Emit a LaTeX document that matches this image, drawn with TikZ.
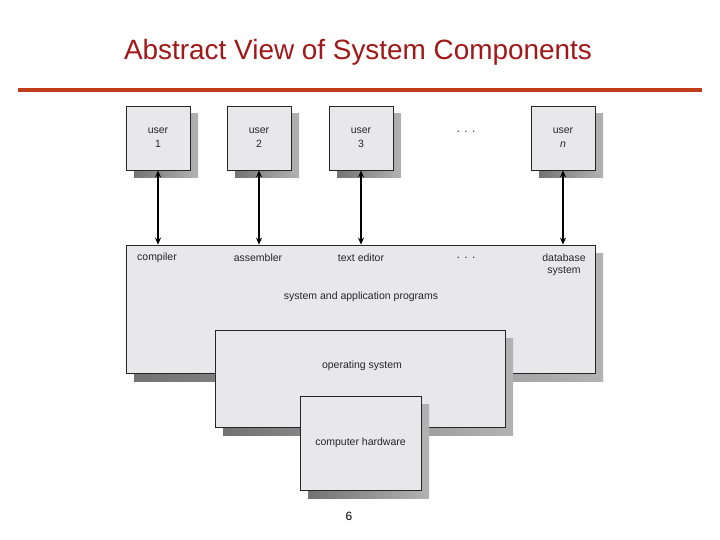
\documentclass[tikz,border=0pt]{standalone}
\usepackage{fontspec}
\setmainfont{Liberation Sans}
\usetikzlibrary{shadows,arrows.meta}
\definecolor{boxfill}{RGB}{232,232,234}
\definecolor{titlered}{RGB}{160,24,24}
\definecolor{rulered}{RGB}{192,60,26}
\tikzset{
  compbox/.style={draw=black!85, line width=0.8pt, fill=boxfill, rectangle, inner sep=0pt,
    general shadow={shadow xshift=8pt, shadow yshift=-8pt, left color=black!55, right color=black!30}},
  lbl/.style={font=\fontsize{10.5}{12}\selectfont, text=black!85, inner sep=1pt, align=center},
  biarrow/.style={line width=1.3pt, {Stealth[length=7pt,width=6pt]}-{Stealth[length=7pt,width=6pt]}}
}
\begin{document}
\begin{tikzpicture}[x=1pt,y=-1pt]
\useasboundingbox (0,0) rectangle (720,540);
\fill[white] (0,0) rectangle (720,540);
% title
\node[font=\fontsize{27.9}{30}\selectfont, text=titlered] (title) at (358,52) {Abstract View of System Components};
\coordinate (rl) at (18,90);
\coordinate (rr) at (702,90);
\draw[rulered, line width=4pt] (rl) -- (rr);
% users
\node[compbox, minimum width=64pt, minimum height=64pt, lbl] (u1) at (158,138) {user\\[2pt]1};
\node[compbox, minimum width=64pt, minimum height=64pt, lbl] (u2) at (259,138) {user\\[2pt]2};
\node[compbox, minimum width=64pt, minimum height=64pt, lbl] (u3) at (361,138) {user\\[2pt]3};
\node[compbox, minimum width=64pt, minimum height=64pt, lbl] (un) at (563,138) {user\\[2pt]\textit{n}};
\node[lbl, font=\fontsize{12}{12}\selectfont] (udots) at (466,132) {. . .};
% system box
\node[compbox, minimum width=469pt, minimum height=128pt] (sys) at (360.5,309) {};
\node[lbl] (comp) at (157,258) {compiler};
\node[lbl] (asm) at (258,258) {assembler};
\node[lbl] (ted) at (361,258) {text editor};
\node[lbl, font=\fontsize{12}{12}\selectfont] (sdots) at (466,258) {. . .};
\node[lbl, align=center] (db) at (564,265) {database\\system};
\node[lbl] (sysl) at (361,297) {system and application programs};
% arrows
\draw[biarrow] (u1.south) -- (u1.south |- sys.north);
\draw[biarrow] (u2.south) -- (u2.south |- sys.north);
\draw[biarrow] (u3.south) -- (u3.south |- sys.north);
\draw[biarrow] (un.south) -- (un.south |- sys.north);
% operating system
\node[compbox, minimum width=290pt, minimum height=97pt] (os) at (360,378.5) {};
\node[lbl] (osl) at (362,366) {operating system};
% hardware
\node[compbox, minimum width=121pt, minimum height=94pt, lbl] (hw) at (360.5,443) {computer hardware};
% page number
\node[font=\fontsize{12}{14}\selectfont] (pnum) at (349,516) {6};
\end{tikzpicture}
\end{document}
